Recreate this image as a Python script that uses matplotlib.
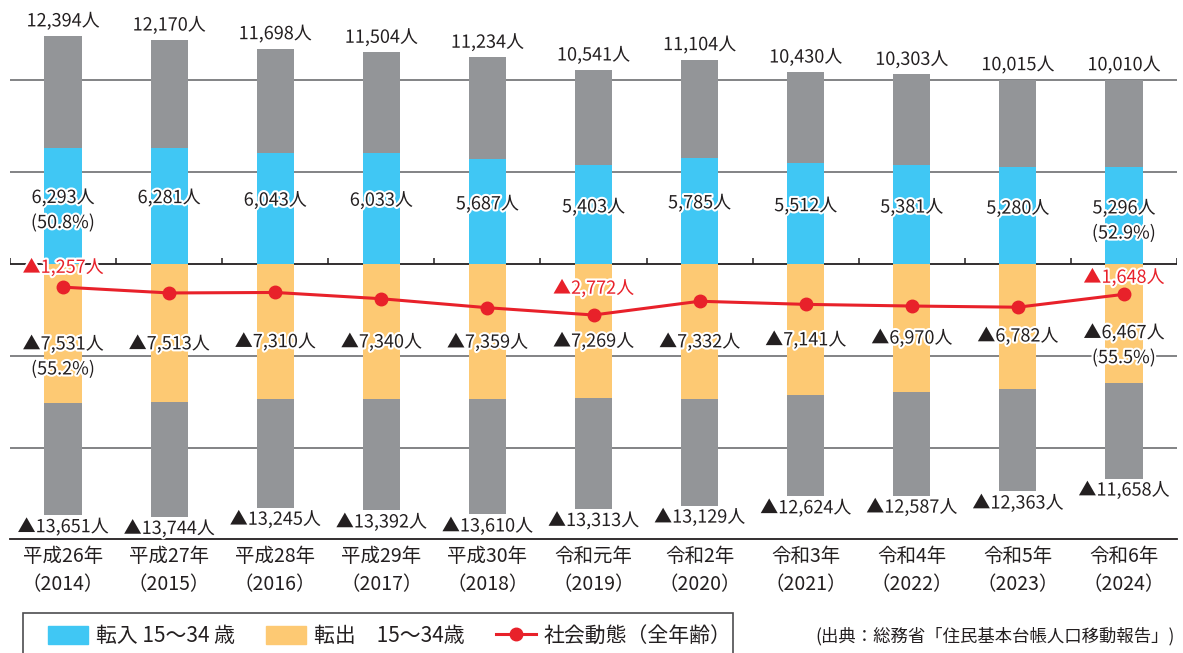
import matplotlib
matplotlib.use("Agg")
import matplotlib.pyplot as plt
import matplotlib.patheffects as pe
from matplotlib.patches import Patch, Rectangle
from matplotlib.lines import Line2D
import numpy as np

plt.rcParams["font.family"] = ["Noto Sans CJK JP", "DejaVu Sans"]

# --- data (persons) ---
eras = ["平成26年", "平成27年", "平成28年", "平成29年", "平成30年", "令和元年",
        "令和2年", "令和3年", "令和4年", "令和5年", "令和6年"]
years = ["2014", "2015", "2016", "2017", "2018", "2019", "2020", "2021", "2022", "2023", "2024"]
in_total = [12394, 12170, 11698, 11504, 11234, 10541, 11104, 10430, 10303, 10015, 10010]
in_young = [6293, 6281, 6043, 6033, 5687, 5403, 5785, 5512, 5381, 5280, 5296]
out_total = [13651, 13744, 13245, 13392, 13610, 13313, 13129, 12624, 12587, 12363, 11658]
out_young = [7531, 7513, 7310, 7340, 7359, 7269, 7332, 7141, 6970, 6782, 6467]
net = [-1257, -1574, -1547, -1888, -2376, -2772, -2025, -2194, -2284, -2348, -1648]
in_share = {0: "50.8%", 10: "52.9%"}
out_share = {0: "55.2%", 10: "55.5%"}
net_shown = {0: 14, 5: 19, 10: 12}   # index -> label offset (pt)

GRAY = "#939598"
CYAN = "#40C7F4"
ORANGE = "#FDC973"
RED = "#E8212A"
TXT = "#231F20"
halo = [pe.withStroke(linewidth=3, foreground="white")]

fig = plt.figure(figsize=(11.83, 6.53), dpi=100)
ax = fig.add_axes([10 / 1183, 1 - 539 / 653, 1167 / 1183, 539 / 653])

x = np.arange(len(eras))
in_total_a, in_young_a = np.array(in_total), np.array(in_young)
out_total_a, out_young_a = np.array(out_total), np.array(out_young)
w = 0.35
ax.bar(x, in_young_a, w, color=CYAN, zorder=2)
ax.bar(x, in_total_a - in_young_a, w, bottom=in_young_a, color=GRAY, zorder=2)
ax.bar(x, -out_young_a, w, color=ORANGE, zorder=2)
ax.bar(x, -(out_total_a - out_young_a), w, bottom=-out_young_a, color=GRAY, zorder=2)
ax.plot(x, net, color=RED, lw=2.2, marker="o", ms=9, zorder=4)

# grid / axes
ax.set_xlim(-0.5, len(eras) - 0.5)
ax.set_ylim(-14946, 14348)
ax.set_yticks([-10000, -5000, 5000, 10000])
ax.yaxis.grid(True, color="#6D6E71", lw=1.2)
ax.set_axisbelow(True)
ax.tick_params(axis="y", length=0, labelleft=False)
ax.axhline(0, color=TXT, lw=1.3, zorder=1)
ax.vlines(np.arange(-0.5, len(eras), 1), 0, 330, color=TXT, lw=1.1, zorder=1)
for s in ["top", "left", "right"]:
    ax.spines[s].set_visible(False)
ax.spines["bottom"].set_color(TXT)
ax.spines["bottom"].set_linewidth(1.3)
ax.set_xticks(x, [f"{e}\n（{y}）" for e, y in zip(eras, years)])
ax.tick_params(axis="x", length=0, pad=5, labelsize=14, labelcolor=TXT)
for t in ax.get_xticklabels():
    t.set_linespacing(1.45)

# labels
fs = 13
for i in x:
    ax.annotate(f"{in_total[i]:,}人", (i, in_total[i]), xytext=(0, 4), textcoords="offset points",
                ha="center", va="bottom", fontsize=fs, color=TXT, path_effects=halo, zorder=5)
    ax.annotate(f"▲{out_total[i]:,}人", (i, -out_total[i]), xytext=(0, -2), textcoords="offset points",
                ha="center", va="top", fontsize=fs, color=TXT, path_effects=halo, zorder=5)
    yi = in_young[i] * 0.57
    ax.text(i, yi, f"{in_young[i]:,}人", ha="center", va="center", fontsize=fs, color=TXT,
            path_effects=halo, zorder=5)
    if i in in_share:
        ax.annotate(f"({in_share[i]})", (i, yi), xytext=(0, -18), textcoords="offset points",
                    ha="center", va="center", fontsize=fs, color=TXT, path_effects=halo, zorder=5)
    yo = -out_young[i] * 0.58
    ax.text(i, yo, f"▲{out_young[i]:,}人", ha="center", va="center", fontsize=fs, color=TXT,
            path_effects=halo, zorder=5)
    if i in out_share:
        ax.annotate(f"({out_share[i]})", (i, yo), xytext=(0, -18), textcoords="offset points",
                    ha="center", va="center", fontsize=fs, color=TXT, path_effects=halo, zorder=5)
for i, off in net_shown.items():
    ax.annotate(f"▲{-net[i]:,}人", (i, net[i]), xytext=(0, off), textcoords="offset points",
                ha="center", va="center", fontsize=fs, color=RED, path_effects=halo, zorder=6)

# legend (frame drawn separately so it runs off the bottom edge) + source
handles = [Patch(color=CYAN), Patch(color=ORANGE),
           Line2D([], [], color=RED, lw=2.2, marker="o", ms=9)]
labels = ["転入 15〜34 歳", "転出　15〜34歳", "社会動態（全年齢）"]
leg = fig.legend(handles, labels, loc="center left", bbox_to_anchor=(48 / 1183, 1 - 636 / 653),
                 ncol=3, frameon=False, fontsize=15, handlelength=1.92, handleheight=1.0,
                 handletextpad=0.38, columnspacing=1.5, borderpad=0, borderaxespad=0)
for t in leg.get_texts():
    t.set_color(TXT)
fig.add_artist(Rectangle((23 / 1183, -0.02), 710 / 1183, 0.02 + 40 / 653, transform=fig.transFigure,
                         fill=False, edgecolor="#4D4D4F", lw=1.2))
fig.text(1175 / 1183, 1 - 636 / 653, "(出典：総務省「住民基本台帳人口移動報告」)",
         ha="right", va="center", fontsize=12.5, color=TXT)

fig.savefig("out.png", dpi=100)
